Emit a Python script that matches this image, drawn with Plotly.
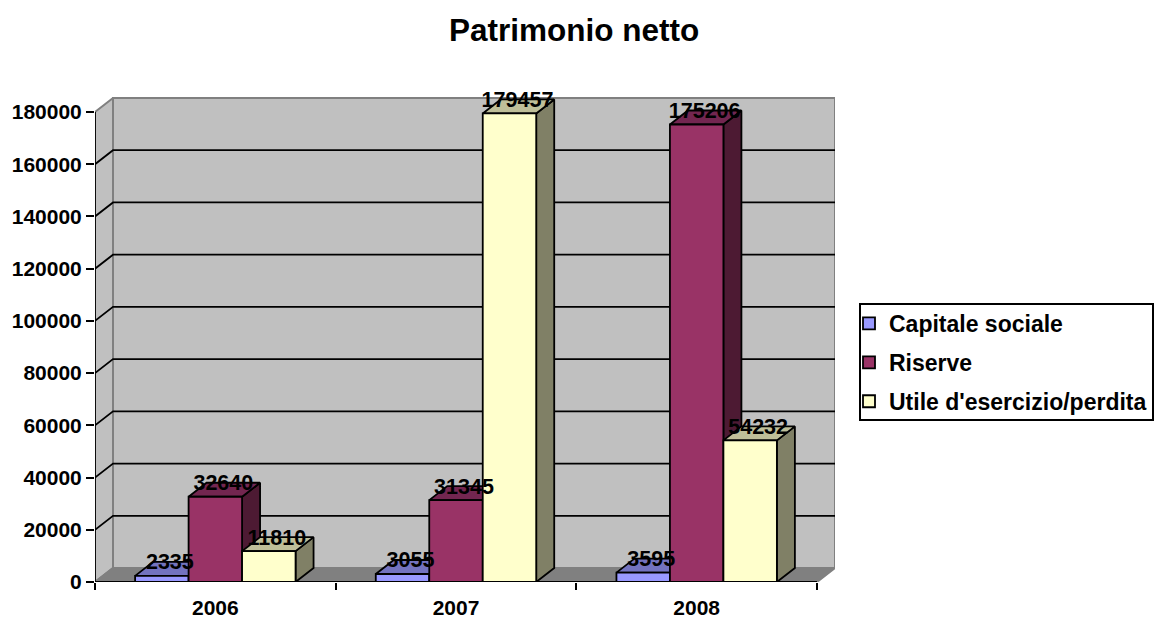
import plotly.graph_objects as go

CATEGORIES = ["2006", "2007", "2008"]
CAPITALE = [2335, 3055, 3595]
RISERVE = [32640, 31345, 175206]
UTILE = [11810, 179457, 54232]
SERIES_NAMES = ["Capitale sociale", "Riserve", "Utile d'esercizio/perdita"]
TICKS = list(range(0, 180001, 20000))

SERIES = [CAPITALE, RISERVE, UTILE]
FRONT = ["#9999FF", "#993366", "#FFFFCC"]
TOP = ["#7373BF", "#732650", "#BFBF99"]
SIDE = ["#4D4D80", "#4D1A33", "#808066"]
WALL, FLOOR, EDGE = "#C0C0C0", "#808080", "#808080"
FONT = "Liberation Sans"

# plot box in pixels
L, R_PX, T, B_PX = 95, 835, 70, 582
W_PX, H_PX = R_PX - L, B_PX - T

# pseudo-3D depth, in data units
YMAX = 180000
DX = 18 / (722 / 3)
DY = 14 * YMAX / 470
XMAX = 3
BAR_W = 2 / 9
LABEL_NUDGE_X = -1 / (722 / 3)
LABEL_NUDGE_Y = -2 * YMAX / 470


def px(x):
    return (x - L) / W_PX


def py(y):
    return (B_PX - y) / H_PX


fig = go.Figure()


def poly(xs, ys, fill, line="black", lw=1.8, z=0):
    fig.add_trace(go.Scatter(x=xs, y=ys, mode="lines", fill="toself", fillcolor=fill,
                             line=dict(color=line, width=lw), showlegend=False,
                             hoverinfo="skip", zorder=z))


def segment(xs, ys, color="black", lw=1.8, z=0):
    fig.add_trace(go.Scatter(x=xs, y=ys, mode="lines", line=dict(color=color, width=lw),
                             showlegend=False, hoverinfo="skip", zorder=z))


# walls and floor
poly([DX, XMAX + DX, XMAX + DX, DX, DX], [DY, DY, YMAX + DY, YMAX + DY, DY], WALL, EDGE, 2)
poly([0, DX, DX, 0, 0], [0, DY, YMAX + DY, YMAX, 0], WALL, EDGE, 2)
poly([0, XMAX, XMAX + DX, DX, 0], [0, 0, DY, DY, 0], FLOOR, EDGE, 2)

# gridlines across side wall and back wall
for t in TICKS[1:-1]:
    segment([0, DX, XMAX + DX], [t, t + DY, t + DY], z=1)
segment([0, 0], [0, YMAX], z=1)
segment([0, XMAX], [0, 0], z=1)

# bars
for k, (vals, name) in enumerate(zip(SERIES, SERIES_NAMES)):
    base_z = 2 + 2 * k
    offset = -1 / 3 + k * BAR_W
    for i, v in enumerate(vals):
        x0 = i + 0.5 + offset
        x1 = x0 + BAR_W
        poly([x1, x1 + DX, x1 + DX, x1, x1], [0, DY, v + DY, v, 0], SIDE[k], z=base_z)
        poly([x0, x1, x1 + DX, x0 + DX, x0], [v, v, v + DY, v + DY, v], TOP[k], z=base_z)
    fig.add_trace(go.Bar(
        x=[i + 0.5 for i in range(3)], y=vals, name=name, width=BAR_W, offset=offset,
        marker=dict(color=FRONT[k], line=dict(color="black", width=1.8)),
        legendgroup=name, zorder=base_z + 1))

# data labels
for k, vals in enumerate(SERIES):
    offset = -1 / 3 + k * BAR_W
    fig.add_trace(go.Scatter(
        x=[i + 0.5 + offset + BAR_W / 2 + DX / 2 + LABEL_NUDGE_X for i in range(3)],
        y=[v + DY + LABEL_NUDGE_Y for v in vals],
        mode="text", text=[str(v) for v in vals], textposition="middle center",
        textfont=dict(family=FONT, size=21.5, color="black", weight="bold"),
        cliponaxis=False, showlegend=False, hoverinfo="skip", zorder=20))

fig.update_layout(
    width=1154, height=617, autosize=False,
    paper_bgcolor="white", plot_bgcolor="white",
    margin=dict(l=L, r=1154 - R_PX, t=T, b=617 - B_PX, autoexpand=False),
    barmode="overlay",
    font=dict(family=FONT, color="black"),
    title=dict(text="<b>Patrimonio netto</b>", x=574 / 1154, xanchor="center",
               y=1 - 30 / 617, yanchor="middle", font=dict(family=FONT, size=31.5, color="black")),
    xaxis=dict(range=[0, XMAX * W_PX / 722], showgrid=False, zeroline=False, showline=False,
               tickmode="array", tickvals=[i + 0.5 for i in range(3)], ticktext=CATEGORIES,
               ticks="outside", ticklen=7, tickcolor="rgba(0,0,0,0)",
               tickfont=dict(family=FONT, size=21, color="black", weight="bold"),
               minor=dict(tickmode="array", tickvals=[0, 1, 2, 3], ticks="outside",
                          ticklen=7, tickwidth=2, tickcolor="black", showgrid=False)),
    yaxis=dict(range=[0, YMAX * H_PX / 470], showgrid=False, zeroline=False, showline=False,
               tickmode="array", tickvals=TICKS, tickformat="d",
               ticks="outside", ticklen=8, tickwidth=2, tickcolor="black",
               tickfont=dict(family=FONT, size=21, color="black", weight="bold")),
    legend=dict(x=px(849), xanchor="left", y=py(302), yanchor="top",
                bgcolor="rgba(0,0,0,0)", borderwidth=0, tracegroupgap=6,
                font=dict(family=FONT, size=23, color="black", weight="bold")),
    shapes=[dict(type="rect", xref="paper", yref="paper",
                 x0=px(860), x1=px(1153), y0=py(420), y1=py(304),
                 line=dict(color="black", width=2), fillcolor="white", layer="below")],
)

fig.write_html("out.html", config={"displayModeBar": False},
               post_script="document.body.style.margin='0';")
